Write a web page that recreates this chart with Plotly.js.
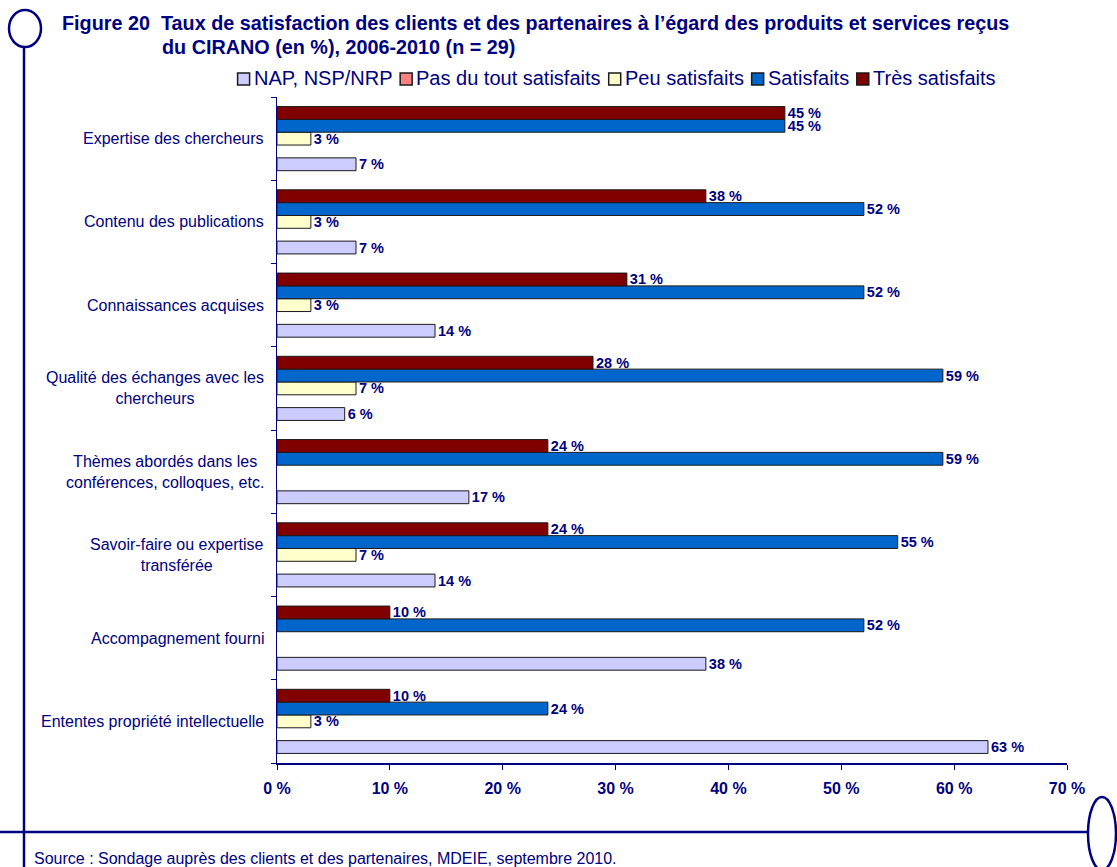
<!DOCTYPE html>
<html>
<head>
<meta charset="utf-8">
<script src="https://cdn.plot.ly/plotly-3.0.1.min.js"></script>
<style>
html,body{margin:0;padding:0;background:#fff;}
#chart{width:1117px;height:867px;}
</style>
</head>
<body>
<div id="chart"></div>
<script>
// ---- Data ----
var categories = [
  "Expertise des chercheurs",
  "Contenu des publications",
  "Connaissances acquises",
  "Qualité des échanges avec les chercheurs",
  "Thèmes abordés dans les conférences, colloques, etc.",
  "Savoir-faire ou expertise transférée",
  "Accompagnement fourni",
  "Ententes propriété intellectuelle"
];
var categoryLabels = [
  "Expertise des chercheurs",
  "Contenu des publications",
  "Connaissances acquises",
  "Qualité des échanges avec les<br>chercheurs",
  "Thèmes abordés dans les<br>conférences, colloques, etc.",
  "Savoir-faire ou expertise<br>transférée",
  "Accompagnement fourni",
  "Ententes propriété intellectuelle"
];
var seriesNames = ["NAP, NSP/NRP", "Pas du tout satisfaits", "Peu satisfaits", "Satisfaits", "Très satisfaits"];
var napValues        = [7, 7, 14, 6, 17, 14, 38, 63];
var pasDuToutValues  = [0, 0, 0, 0, 0, 0, 0, 0];
var peuValues        = [3, 3, 3, 7, 0, 7, 0, 3];
var satisfaitsValues = [45, 52, 52, 59, 59, 55, 52, 24];
var tresValues       = [45, 38, 31, 28, 24, 24, 10, 10];
var xTickValues = [0, 10, 20, 30, 40, 50, 60, 70];
var xTickLabels = ["0 %", "10 %", "20 %", "30 %", "40 %", "50 %", "60 %", "70 %"];

var titleLine1 = "Figure 20  Taux de satisfaction des clients et des partenaires à l’égard des produits et services reçus";
var titleLine2 = "du CIRANO (en %), 2006-2010 (n = 29)";
var sourceText = "Source : Sondage auprès des clients et des partenaires, MDEIE, septembre 2010.";

// ---- Style ----
var NAVY = "#000080";
var colors = ["#CCCCFF", "#FF8080", "#FFFFCC", "#0066CC", "#800000"];
var OUTLINE = "#1a1a1a";
var FONT = "Liberation Sans, Arial, sans-serif";

// plot area in pixels
var L = 277, R = 1067, T = 97, B = 763;
function px(x){ return (x - L) / (R - L); }
function py(y){ return (B - y) / (B - T); }

var allValues = [napValues, pasDuToutValues, peuValues, satisfaitsValues, tresValues];
var traces = allValues.map(function(vals, i){
  return {
    type: "bar",
    orientation: "h",
    name: seriesNames[i],
    y: categories,
    x: vals.map(function(v){ return v === 0 ? null : v; }),
    text: vals.map(function(v){ return v === 0 ? "" : v + " %"; }),
    textposition: "outside",
    constraintext: "none",
    cliponaxis: false,
    textfont: {family: FONT, size: 14.5, color: NAVY, weight: "bold"},
    marker: {color: colors[i], line: {color: OUTLINE, width: 1}},
    hoverinfo: "x+name"
  };
});

var annotations = [];
var shapes = [];

// category labels (centered multi-line, right-aligned to the axis)
categories.forEach(function(c, i){
  annotations.push({
    xref: "paper", yref: "y", x: 0, y: c, xshift: -11,
    xanchor: "right", yanchor: "middle", align: "center",
    text: categoryLabels[i], showarrow: false,
    font: {family: FONT, size: 16, color: NAVY}
  });
});

// titles and source
annotations.push({
  xref: "paper", yref: "paper", x: px(60), y: py(23), xanchor: "left", yanchor: "middle",
  text: "<b>" + titleLine1 + "</b>", showarrow: false,
  font: {family: FONT, size: 19.8, color: NAVY}
});
annotations.push({
  xref: "paper", yref: "paper", x: px(160), y: py(47), xanchor: "left", yanchor: "middle",
  text: "<b>" + titleLine2 + "</b>", showarrow: false,
  font: {family: FONT, size: 19.8, color: NAVY}
});
annotations.push({
  xref: "paper", yref: "paper", x: px(32), y: py(858), xanchor: "left", yanchor: "middle",
  text: sourceText, showarrow: false,
  font: {family: FONT, size: 16, color: NAVY}
});

// legend (compact, as in the reference)
var LEG_FONT = 20, SQ = 12, SQ_GAP = 3, ITEM_GAP = 9, LEG_CX = 616, LEG_Y = 79;
var ctx = document.createElement("canvas").getContext("2d");
ctx.font = LEG_FONT + "px 'Liberation Sans', Arial, sans-serif";
var widths = seriesNames.map(function(n){ return ctx.measureText(n).width; });
var total = widths.reduce(function(a, w){ return a + SQ + SQ_GAP + w; }, 0) + ITEM_GAP * (seriesNames.length - 1);
var cur = LEG_CX - total / 2;
seriesNames.forEach(function(n, i){
  shapes.push({type: "rect", xref: "paper", yref: "paper",
    x0: px(cur), x1: px(cur + SQ), y0: py(LEG_Y + SQ / 2), y1: py(LEG_Y - SQ / 2),
    fillcolor: colors[i], line: {color: OUTLINE, width: 1.5}});
  annotations.push({xref: "paper", yref: "paper", x: px(cur + SQ + SQ_GAP - 1), y: py(LEG_Y - 1),
    xanchor: "left", yanchor: "middle", text: n, showarrow: false,
    font: {family: FONT, size: LEG_FONT, color: NAVY}});
  cur += SQ + SQ_GAP + widths[i] + ITEM_GAP;
});

// page decorations
var lineStyle = {color: NAVY, width: 2.5};
shapes.push(
  {type: "circle", xref: "paper", yref: "paper", x0: px(9), x1: px(41), y0: py(47), y1: py(10), line: lineStyle},
  {type: "line", xref: "paper", yref: "paper", x0: px(24), x1: px(24), y0: py(47), y1: py(870), line: lineStyle},
  {type: "line", xref: "paper", yref: "paper", x0: px(0), x1: px(1088), y0: py(832), y1: py(832), line: lineStyle},
  {type: "circle", xref: "paper", yref: "paper", x0: px(1088), x1: px(1116), y0: py(870), y1: py(797), line: lineStyle}
);

var layout = {
  width: 1117, height: 867,
  margin: {l: L, r: 1117 - R, t: T, b: 867 - B, pad: 0},
  paper_bgcolor: "#ffffff", plot_bgcolor: "#ffffff",
  barmode: "group", bargap: 0.23, bargroupgap: 0,
  font: {family: FONT, color: NAVY},
  showlegend: false,
  xaxis: {
    range: [0, 70], tickvals: xTickValues, ticktext: xTickLabels,
    ticks: "outside", ticklen: 5, tickcolor: NAVY, tickwidth: 1,
    showline: true, linecolor: NAVY, linewidth: 1.5,
    showgrid: false, zeroline: false, ticklabelstandoff: 5,
    tickfont: {family: FONT, size: 16, color: NAVY, weight: "bold"},
    fixedrange: true
  },
  yaxis: {
    type: "category", categoryorder: "array", categoryarray: categories.slice().reverse(),
    showticklabels: false, ticks: "outside", tickson: "boundaries", ticklen: 5,
    tickcolor: NAVY, tickwidth: 1,
    showline: true, linecolor: NAVY, linewidth: 1.5,
    showgrid: false, zeroline: false, fixedrange: true
  },
  annotations: annotations,
  shapes: shapes
};

Plotly.newPlot("chart", traces, layout, {displayModeBar: false, staticPlot: true});
</script>
</body>
</html>
